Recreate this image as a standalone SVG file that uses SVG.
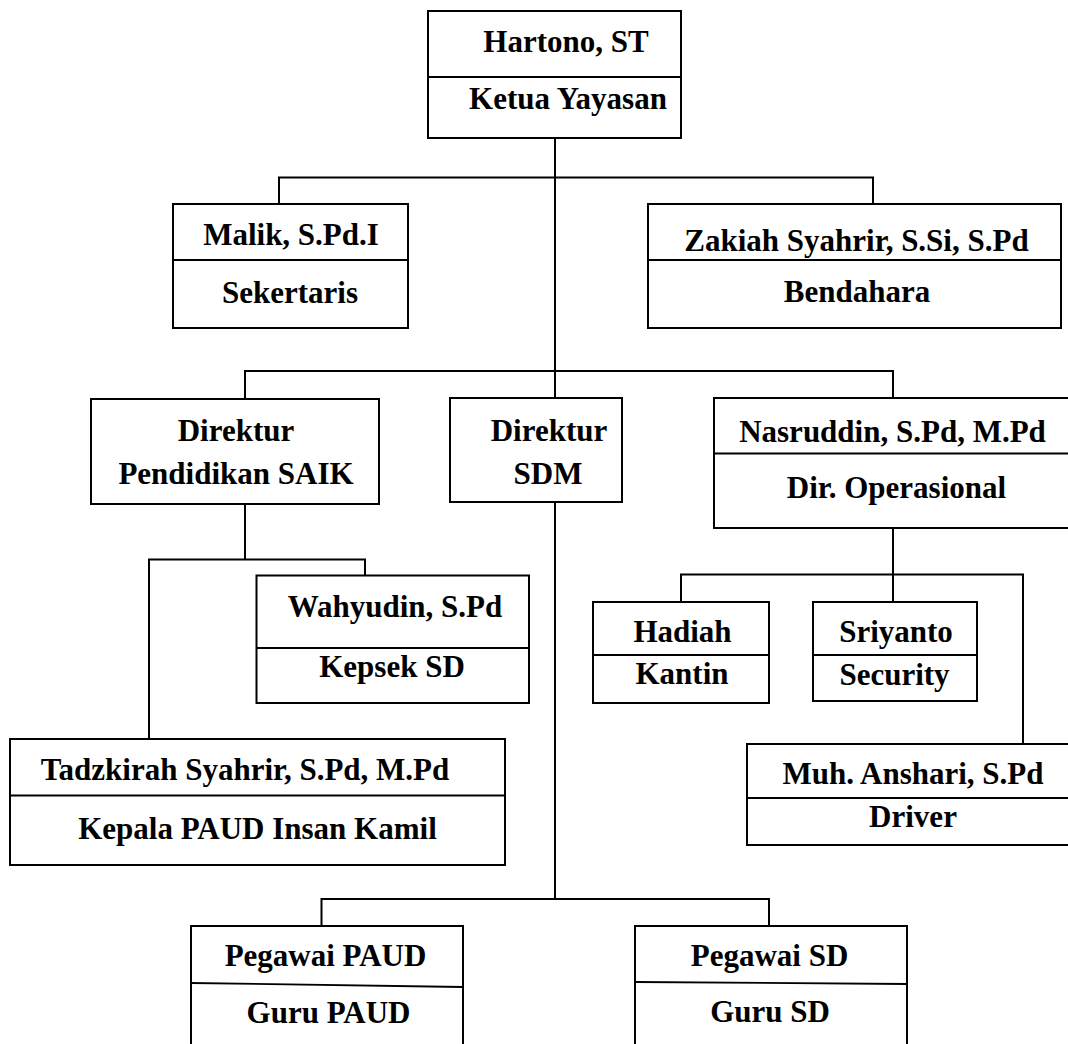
<svg xmlns="http://www.w3.org/2000/svg" width="1068" height="1044" viewBox="0 0 1068 1044">
<style>
.box{fill:#fff;stroke:#000;stroke-width:2}
.div{stroke:#000;stroke-width:1.8;fill:none}
.t{font-family:"Liberation Serif","Times New Roman",serif;font-weight:bold;font-size:31px;text-anchor:middle;fill:#000}
.c{stroke:#000;stroke-width:2;fill:none}
</style>
<rect width="1068" height="1044" fill="#fff"/>
<g id="connectors">
<path class="c" d="M555,138 V398 M555,502 V899"/>
<path class="c" d="M279,204 V177.5 H873 V204"/>
<path class="c" d="M245,399 V371 H893 V398"/>
<path class="c" d="M245,504 V559.5 M149,739 V559.5 H365 V575.5"/>
<path class="c" d="M893,528 V602 M681,602 V574.5 H1023 V744"/>
<path class="c" d="M321.5,926 V899 H769 V926"/>
</g>
<g id="ketua">
<rect class="box" x="428" y="11" width="253" height="127"/>
<line class="div" x1="428" y1="77" x2="681" y2="77"/>
<text class="t" x="566" y="52">Hartono,  ST</text>
<text class="t" x="568" y="109">Ketua Yayasan</text>
</g>
<g id="sekertaris">
<rect class="box" x="173" y="204" width="235" height="124"/>
<line class="div" x1="173" y1="260" x2="408" y2="260"/>
<text class="t" x="291" y="245">Malik, S.Pd.I</text>
<text class="t" x="290" y="303">Sekertaris</text>
</g>
<g id="bendahara">
<rect class="box" x="648" y="204" width="413" height="124"/>
<line class="div" x1="648" y1="260" x2="1061" y2="260"/>
<text class="t" x="856.5" y="251">Zakiah  Syahrir, S.Si, S.Pd</text>
<text class="t" x="857" y="302">Bendahara</text>
</g>
<g id="dir-saik">
<rect class="box" x="91" y="399" width="288" height="105"/>
<text class="t" x="236" y="441">Direktur</text>
<text class="t" x="236" y="484">Pendidikan  SAIK</text>
</g>
<g id="dir-sdm">
<rect class="box" x="450" y="398" width="172" height="104"/>
<text class="t" x="549" y="441">Direktur</text>
<text class="t" x="548" y="484">SDM</text>
</g>
<g id="dir-ops">
<rect class="box" x="714" y="398" width="370" height="130"/>
<line class="div" x1="714" y1="453.5" x2="1084" y2="453.5"/>
<text class="t" x="892.5" y="442">Nasruddin,  S.Pd, M.Pd</text>
<text class="t" x="896.5" y="498">Dir. Operasional</text>
</g>
<g id="kepsek-sd">
<rect class="box" x="256.5" y="575.5" width="272.5" height="127.5"/>
<line class="div" x1="256.5" y1="648" x2="529" y2="648"/>
<text class="t" x="395" y="617">Wahyudin,  S.Pd</text>
<text class="t" x="392" y="677">Kepsek SD</text>
</g>
<g id="kepala-paud">
<rect class="box" x="10" y="739" width="495" height="126"/>
<line class="div" x1="10" y1="795.5" x2="505" y2="795.5"/>
<text class="t" x="245" y="780">Tadzkirah  Syahrir,  S.Pd, M.Pd</text>
<text class="t" x="257.5" y="839">Kepala PAUD Insan Kamil</text>
</g>
<g id="kantin">
<rect class="box" x="593" y="602" width="176" height="101"/>
<line class="div" x1="593" y1="655" x2="769" y2="655"/>
<text class="t" x="682.5" y="642">Hadiah</text>
<text class="t" x="682" y="684">Kantin</text>
</g>
<g id="security">
<rect class="box" x="813" y="602" width="164" height="99"/>
<line class="div" x1="813" y1="655" x2="977" y2="655"/>
<text class="t" x="896" y="642">Sriyanto</text>
<text class="t" x="894.5" y="685">Security</text>
</g>
<g id="driver">
<rect class="box" x="747" y="744" width="337" height="101"/>
<line class="div" x1="747" y1="798" x2="1084" y2="798"/>
<text class="t" x="913" y="784">Muh. Anshari,  S.Pd</text>
<text class="t" x="913" y="827">Driver</text>
</g>
<g id="pegawai-paud">
<rect class="box" x="191" y="926" width="272" height="134"/>
<line class="div" x1="191" y1="983" x2="463" y2="987"/>
<text class="t" x="325.5" y="966">Pegawai PAUD</text>
<text class="t" x="328.5" y="1023">Guru PAUD</text>
</g>
<g id="pegawai-sd">
<rect class="box" x="635" y="926" width="272" height="134"/>
<line class="div" x1="635" y1="982" x2="907" y2="984"/>
<text class="t" x="769.5" y="966">Pegawai SD</text>
<text class="t" x="770" y="1022">Guru SD</text>
</g>
</svg>
